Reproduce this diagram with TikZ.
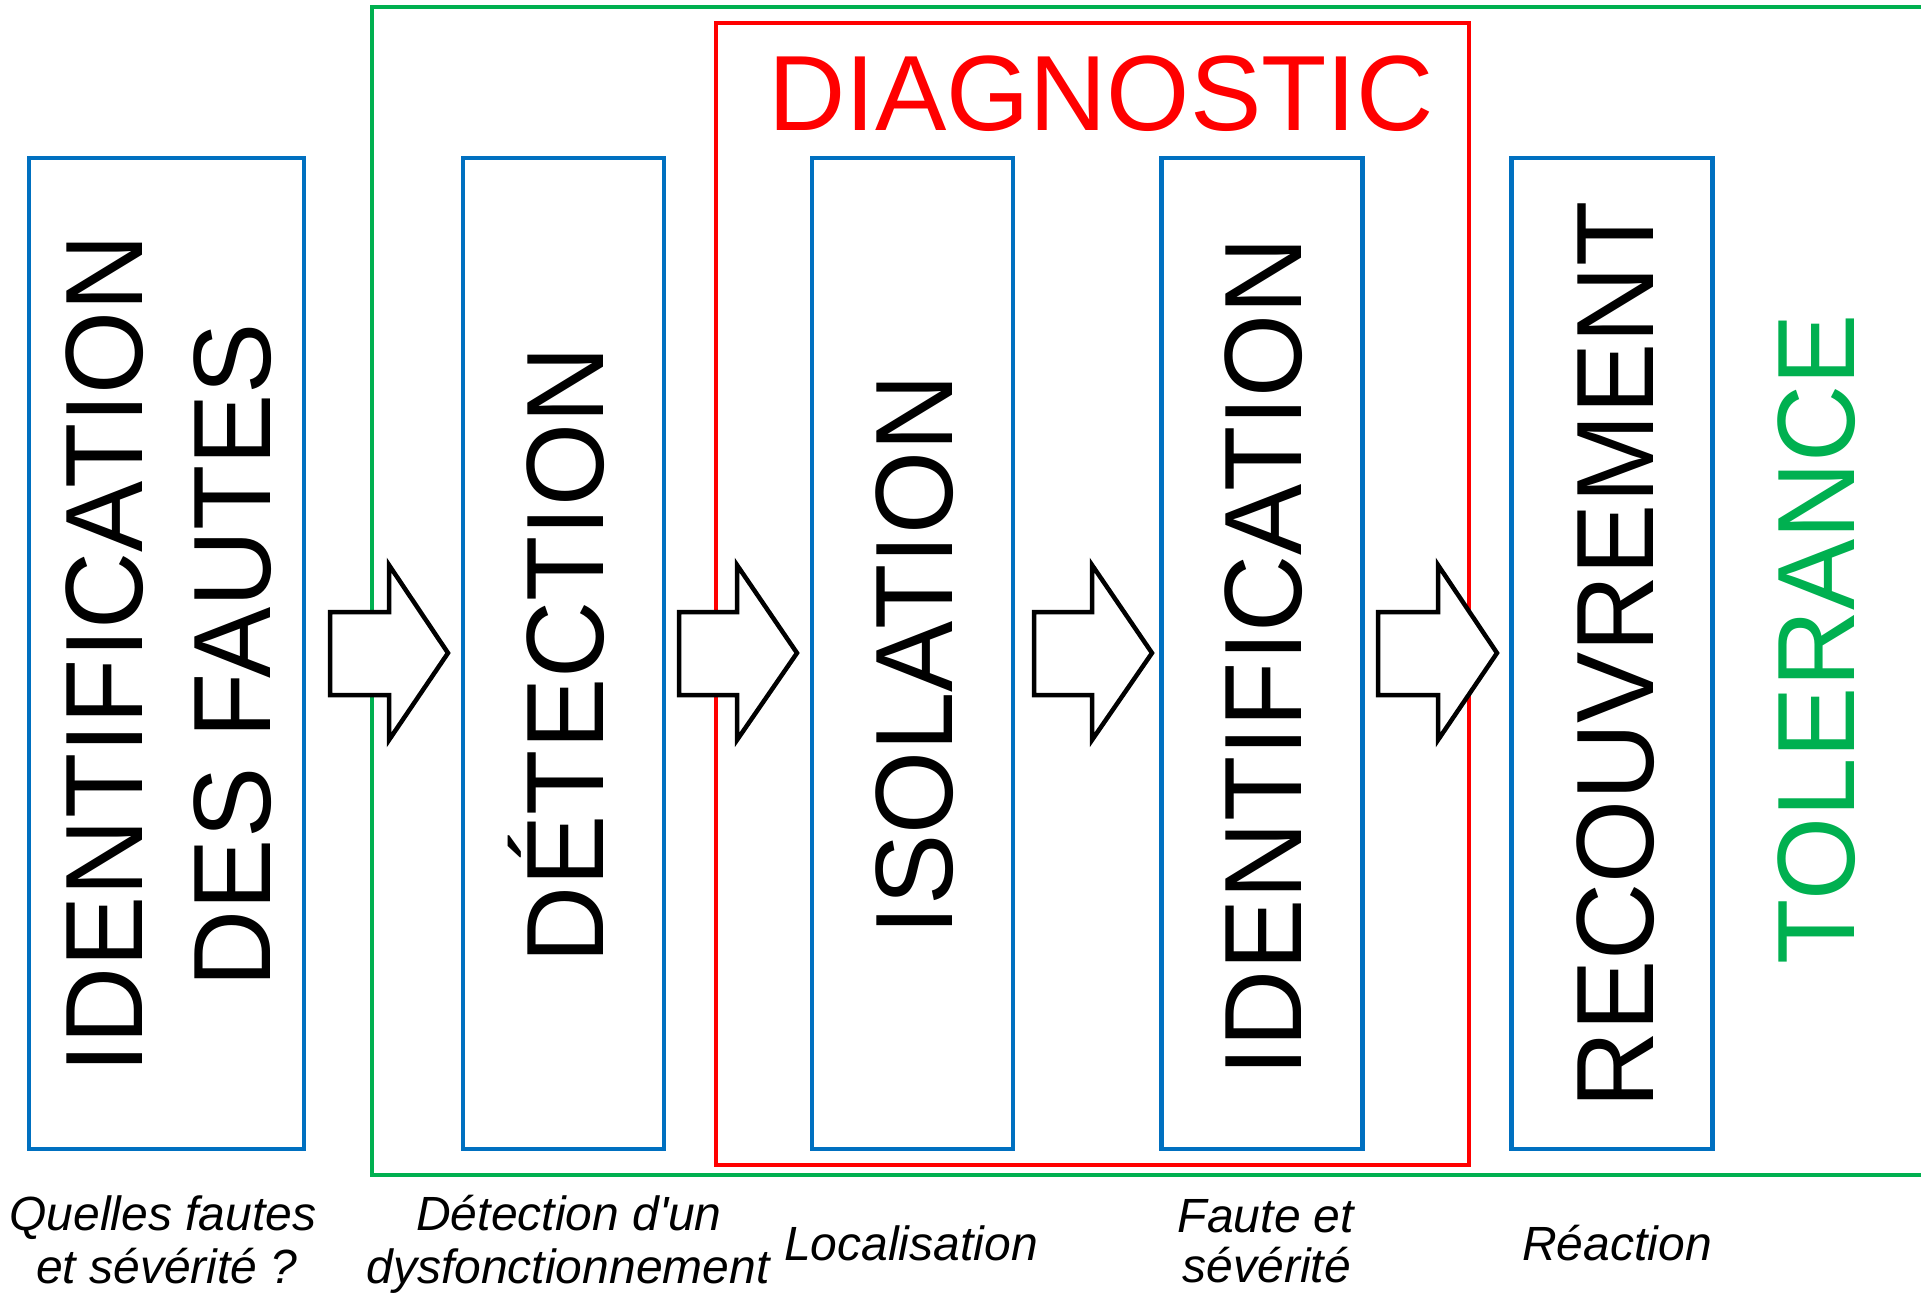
\documentclass[tikz,border=0pt]{standalone}
\usepackage{fontspec}
\setmainfont{Liberation Sans}
\newfontfamily\stagefont[FakeStretch=0.97]{Liberation Sans}
\newfontfamily\capfont{Liberation Sans}
\definecolor{boxblue}{HTML}{0070C0}
\definecolor{tolgreen}{HTML}{00B050}
\definecolor{diagred}{HTML}{FF0000}
\begin{document}
\begin{tikzpicture}[x=1pt,y=-1pt,
  stagebox/.style={draw=boxblue,line width=4.5pt,inner sep=0pt,minimum height=991pt,minimum width=#1},
  vlabel/.style={rotate=90,font={\stagefont\fontsize{110pt}{132pt}\selectfont},text height=79pt,text depth=0pt,inner sep=0pt},
  caption/.style={font={\capfont\itshape\fontsize{48pt}{53pt}\selectfont},anchor=base,inner sep=0pt},
  blockarrow/.style={draw=black,line width=4.5pt,fill=white,line join=miter}]
\useasboundingbox (0,0) rectangle (1921,1296);
\begin{scope}
\clip (0,0) rectangle (1921,1296);
% outer frame (tolerance)
\draw[tolgreen,line width=4.5pt] (372,7) rectangle (1960,1175);
\end{scope}
\draw[diagred,line width=4.8pt] (716,23) rectangle (1469,1165);
\node[text=diagred,font={\fontsize{107pt}{128pt}\selectfont},text height=77pt,text depth=0pt,inner sep=0pt] (diag) at (1101,91.5) {DIAGNOSTIC};
% stage boxes
\node[stagebox=275pt] (b1) at (166.5,653.5) {};
\node[stagebox=201pt] (b2) at (563.5,653.5) {};
\node[stagebox=201pt] (b3) at (912.5,653.5) {};
\node[stagebox=201pt] (b4) at (1262,653.5) {};
\node[stagebox=201pt] (b5) at (1612,653.5) {};
% vertical labels
\node[vlabel] (t1a) at (102.5,654) {IDENTIFICATION};
\node[vlabel] (t1b) at (231,655) {DES FAUTES};
\node[vlabel] (t2) at (564,655) {DÉTECTION};
\node[vlabel] (t3) at (913,655) {ISOLATION};
\node[vlabel] (t4) at (1262,657) {IDENTIFICATION};
\node[vlabel] (t5) at (1614,655) {RECOUVREMENT};
\node[vlabel,text=tolgreen] (tol) at (1815,639) {TOLERANCE};
% block arrows
\newcommand\blockarrow[3]{\draw[blockarrow] (#1,612) -- (#2,612) -- (#2,565) -- (#3,653) -- (#2,740) -- (#2,695) -- (#1,695) -- cycle;}
\blockarrow{330}{389}{448}
\blockarrow{679}{737}{797}
\blockarrow{1034}{1092}{1152}
\blockarrow{1378}{1438}{1497}
% captions
\node[caption] (c1a) at (163,1230) {Quelles fautes};
\node[caption] (c1b) at (167,1283) {et sévérité ?};
\node[caption] (c2a) at (569,1230) {Détection d'un};
\node[caption] (c2b) at (568,1283) {dysfonctionnement};
\node[caption] (c3) at (911,1260) {Localisation};
\node[caption] (c4a) at (1266,1232) {Faute et};
\node[caption] (c4b) at (1267,1282) {sévérité};
\node[caption] (c5) at (1617,1260) {Réaction};
\end{tikzpicture}
\end{document}
